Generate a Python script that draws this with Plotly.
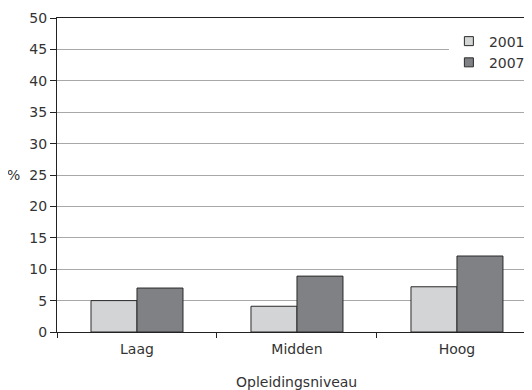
import plotly.graph_objects as go

categories = ["Laag", "Midden", "Hoog"]
values_2001 = [5.0, 4.1, 7.2]
values_2007 = [7.0, 8.9, 12.1]
series_names = ["2001", "2007"]
y_ticks = [0, 5, 10, 15, 20, 25, 30, 35, 40, 45, 50]

light = "#d3d4d6"
dark = "#808184"
outline = "#2a2a2a"
font_color = "#333333"

fig = go.Figure()
fig.add_trace(go.Bar(x=categories, y=values_2001, name=series_names[0],
                     marker=dict(color=light, line=dict(color=outline, width=1)),
                     showlegend=False))
fig.add_trace(go.Bar(x=categories, y=values_2007, name=series_names[1],
                     marker=dict(color=dark, line=dict(color=outline, width=1)),
                     showlegend=False))
# legend entries with small square symbols
for nm, col in zip(series_names, [light, dark]):
    fig.add_trace(go.Scatter(x=[None], y=[None], mode="markers", name=nm,
                             marker=dict(symbol="square", size=9, color=col,
                                         line=dict(color=outline, width=1))))

# page body has an 8px default margin, so the figure is sized to fill the window
fig.update_layout(
    width=524, height=382,
    margin=dict(l=49, r=0, t=10, b=58),
    paper_bgcolor="white", plot_bgcolor="white",
    barmode="group", bargap=0.425, bargroupgap=0,
    font=dict(family="DejaVu Sans", size=14, color=font_color),
    legend=dict(x=0.825, y=0.976, xanchor="left", yanchor="top",
                bgcolor="white", borderwidth=0, font=dict(size=14),
                tracegroupgap=0, itemsizing="trace"),
    xaxis=dict(range=[-0.5, 2.469], showline=True, linecolor="#222222", linewidth=1,
               mirror=True, ticks="outside", tickson="boundaries", ticklen=5,
               tickcolor="#222222", showgrid=False, zeroline=False, fixedrange=True,
               ticklabelstandoff=4),
    yaxis=dict(range=[0, 50], tickvals=y_ticks, showline=True, linecolor="#222222",
               linewidth=1, ticks="outside", ticklen=6, tickcolor="#222222",
               showgrid=True, gridcolor="#a8a8a8", gridwidth=1, zeroline=False,
               fixedrange=True),
    annotations=[
        dict(text="%", xref="paper", yref="y", x=0, y=25, xanchor="right",
             xshift=-35, showarrow=False, font=dict(size=14, color=font_color)),
        dict(text="Opleidingsniveau", xref="x", yref="paper", x=1, y=0,
             yshift=-50, yanchor="middle", showarrow=False,
             font=dict(size=14, color=font_color)),
    ],
)

fig.write_html("out.html")
